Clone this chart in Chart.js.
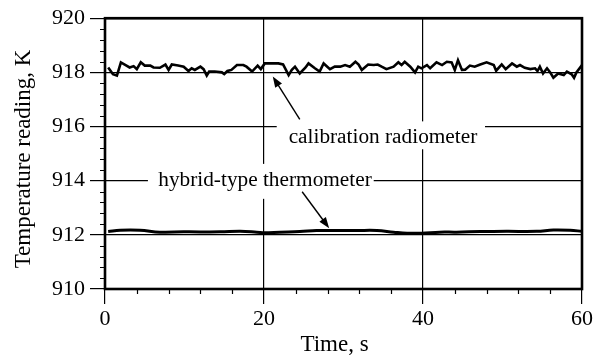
<!DOCTYPE html>
<html>
<head>
<meta charset="utf-8">
<script src="https://cdn.jsdelivr.net/npm/chart.js@4.4.1/dist/chart.umd.min.js"></script>
<style>
  html, body { margin: 0; padding: 0; background: #fff; }
  #wrap { width: 596px; height: 361px; position: relative; }
</style>
</head>
<body>
<div id="wrap"><canvas id="chart"></canvas></div>
<script>
/* Temperature readings over 60 s: calibration radiometer vs hybrid-type thermometer */

const SERIF = '"Liberation Serif", "Times New Roman", serif';

// calibration radiometer, time (s) and reading (K)
const calTime = [
    0.4, 1.0, 1.5, 2.0, 2.7, 3.1, 3.6, 4.0, 4.5, 5.0,
    5.7, 6.1, 6.9, 7.6, 8.0, 8.4, 9.2, 9.9, 10.5, 10.9,
    11.3, 12.0, 12.4, 12.8, 13.1, 13.8, 14.7, 15.0, 15.4, 15.9,
    16.6, 17.4, 17.8, 18.5, 19.2, 19.6, 20.1, 20.8, 21.8, 22.4,
    23.1, 23.5, 23.9, 24.5, 25.2, 25.6, 26.4, 27.0, 27.5, 28.3,
    28.9, 29.6, 30.2, 30.8, 31.5, 31.9, 32.3, 33.1, 33.8, 34.3,
    34.8, 35.4, 36.3, 36.9, 37.3, 37.7, 38.4, 39.0, 39.4, 39.8,
    40.5, 40.9, 41.7, 42.4, 43.0, 43.6, 44.0, 44.4, 44.9, 45.3,
    45.9, 46.5, 47.2, 48.0, 48.9, 49.2, 49.9, 50.4, 51.2, 51.8,
    52.2, 52.8, 53.5, 54.1, 54.4, 54.7, 55.1, 55.6, 56.0, 56.4,
    57.0, 57.7, 58.1, 58.7, 59.0, 59.3, 60.0
];
const calTemp = [
    918.18, 917.93, 917.88, 918.37, 918.25, 918.18, 918.23, 918.12, 918.37, 918.25,
    918.25, 918.18, 918.17, 918.29, 918.09, 918.29, 918.25, 918.21, 918.05, 918.15,
    918.09, 918.21, 918.12, 917.88, 918.03, 918.03, 918.00, 917.94, 918.05, 918.09,
    918.27, 918.27, 918.21, 918.03, 918.25, 918.12, 918.33, 918.33, 918.33, 918.29,
    917.90, 918.09, 918.21, 917.96, 918.17, 918.33, 918.15, 918.03, 918.33, 918.12,
    918.21, 918.21, 918.27, 918.21, 918.39, 918.29, 918.09, 918.29, 918.27, 918.29,
    918.21, 918.12, 918.21, 918.37, 918.27, 918.39, 918.21, 918.00, 918.21, 918.15,
    918.27, 918.15, 918.37, 918.27, 918.39, 918.37, 918.09, 918.45, 918.09, 918.10,
    918.25, 918.21, 918.29, 918.37, 918.27, 918.06, 918.29, 918.12, 918.33, 918.21,
    918.27, 918.17, 918.12, 918.15, 918.05, 918.21, 917.96, 918.15, 918.00, 917.80,
    917.96, 917.90, 918.03, 917.93, 917.80, 918.00, 918.27
];

// hybrid-type thermometer, time (s) and reading (K)
const hybTime = [
    0.4, 1.9, 4.4, 6.9, 9.9, 14.5, 17.0, 19.1, 20.1, 22.0,
    24.5, 26.6, 29.6, 31.7, 34.2, 36.3, 38.0, 39.8, 42.1, 44.2,
    47.2, 50.5, 54.3, 56.4, 58.5, 60.0
];
const hybTemp = [
    912.12, 912.17, 912.17, 912.10, 912.11, 912.11, 912.13, 912.10, 912.08, 912.10,
    912.12, 912.16, 912.16, 912.16, 912.16, 912.10, 912.06, 912.06, 912.10, 912.10,
    912.12, 912.13, 912.13, 912.18, 912.17, 912.13
];

// axis ticks
const xTicks = [0, 20, 40, 60];
const yTicks = [910, 912, 914, 916, 918, 920];
const xMinorStep = 4;
const yMinorStep = 0.4;

// text labels with their arrows, placed in data units
const callouts = [
    { text: 'calibration radiometer', tx: 23.1, ty: 915.40,
      box: [21.6, 916.19, 47.8, 915.16],
      arrow: [24.5, 916.26, 21.1, 917.85] },
    { text: 'hybrid-type thermometer', tx: 6.7, ty: 913.81,
      box: [5.4, 914.62, 33.8, 913.33],
      arrow: [24.8, 913.59, 28.2, 912.24] },
];

const toPoints = (xs, ys) => xs.map((x, i) => ({ x, y: ys[i] }));

// white boxes behind the callout text so the grid stops at the words
const calloutPlugin = {
    id: 'callouts',
    beforeDatasetsDraw(chart) {
        const { ctx, scales: { x, y } } = chart;
        ctx.save();
        callouts.forEach(c => {
            const [x0, y0, x1, y1] = c.box;
            ctx.fillStyle = '#fff';
            ctx.fillRect(x.getPixelForValue(x0), y.getPixelForValue(y0),
                x.getPixelForValue(x1) - x.getPixelForValue(x0),
                y.getPixelForValue(y1) - y.getPixelForValue(y0));
            ctx.fillStyle = '#000';
            ctx.font = '21.3px ' + SERIF;
            ctx.textBaseline = 'alphabetic';
            ctx.textAlign = 'left';
            ctx.fillText(c.text, x.getPixelForValue(c.tx), y.getPixelForValue(c.ty));

            // arrow
            const ax0 = x.getPixelForValue(c.arrow[0]), ay0 = y.getPixelForValue(c.arrow[1]);
            const ax1 = x.getPixelForValue(c.arrow[2]), ay1 = y.getPixelForValue(c.arrow[3]);
            const ang = Math.atan2(ay1 - ay0, ax1 - ax0);
            const len = 11, half = 4;
            ctx.strokeStyle = '#000';
            ctx.lineWidth = 1.4;
            ctx.beginPath();
            ctx.moveTo(ax0, ay0);
            ctx.lineTo(ax1 - Math.cos(ang) * len * 0.8, ay1 - Math.sin(ang) * len * 0.8);
            ctx.stroke();
            ctx.beginPath();
            ctx.moveTo(ax1, ay1);
            ctx.lineTo(ax1 - Math.cos(ang) * len - Math.sin(ang) * half,
                       ay1 - Math.sin(ang) * len + Math.cos(ang) * half);
            ctx.lineTo(ax1 - Math.cos(ang) * len + Math.sin(ang) * half,
                       ay1 - Math.sin(ang) * len - Math.cos(ang) * half);
            ctx.closePath();
            ctx.fill();
        });
        ctx.restore();
    },
};

// heavy frame, minor ticks and axis titles
const framePlugin = {
    id: 'frame',
    afterDatasetsDraw(chart) {
        const { ctx, chartArea: a, scales: { x, y } } = chart;
        ctx.save();
        ctx.strokeStyle = '#000';
        ctx.lineWidth = 1.2;
        ctx.beginPath();
        for (let v = x.min; v <= x.max + 1e-6; v += xMinorStep) {
            if (xTicks.includes(Math.round(v))) continue;
            const px = Math.round(x.getPixelForValue(v)) + 0.5;
            ctx.moveTo(px, a.bottom);
            ctx.lineTo(px, a.bottom + 5);
        }
        for (let v = y.min; v <= y.max + 1e-6; v += yMinorStep) {
            if (Math.abs(v - Math.round(v / 2) * 2) < 1e-6) continue;
            const py = Math.round(y.getPixelForValue(v)) + 0.5;
            ctx.moveTo(a.left - 5, py);
            ctx.lineTo(a.left, py);
        }
        ctx.stroke();

        ctx.lineWidth = 2.6;
        ctx.strokeRect(a.left, a.top, a.right - a.left, a.bottom - a.top);

        ctx.fillStyle = '#000';
        ctx.font = '23px ' + SERIF;
        ctx.textAlign = 'center';
        ctx.textBaseline = 'alphabetic';
        ctx.fillText('Time, s', (a.left + a.right) / 2 - 9, a.bottom + 62);

        ctx.translate(a.left - 75, 159);
        ctx.rotate(-Math.PI / 2);
        ctx.fillText('Temperature reading, K', 0, 0);
        ctx.restore();
    },
};

const tickFont = { family: SERIF, size: 22 };

new Chart(document.getElementById('chart'), {
    type: 'line',
    data: {
        datasets: [
            {
                label: 'calibration radiometer',
                data: toPoints(calTime, calTemp),
                borderColor: '#000',
                borderWidth: 2.6,
                pointRadius: 0,
                tension: 0,
            },
            {
                label: 'hybrid-type thermometer',
                data: toPoints(hybTime, hybTemp),
                borderColor: '#000',
                borderWidth: 3,
                pointRadius: 0,
                tension: 0.4,
            },
        ],
    },
    options: {
        responsive: true,
        maintainAspectRatio: false,
        animation: false,
        layout: { padding: { top: 16, right: 14, left: 0, bottom: 0 } },
        plugins: { legend: { display: false }, tooltip: { enabled: false } },
        scales: {
            x: {
                type: 'linear', min: 0, max: 60,
                afterBuildTicks: s => { s.ticks = xTicks.map(value => ({ value })); },
                afterFit: s => { s.height = 72; },
                ticks: { color: '#000', font: tickFont, padding: 2, maxRotation: 0 },
                grid: { color: '#000', lineWidth: 1.2, tickLength: 15 },
                border: { display: false },
            },
            y: {
                min: 910, max: 920,
                afterBuildTicks: s => { s.ticks = yTicks.map(value => ({ value })); },
                afterFit: s => { s.width = 105; },
                ticks: { color: '#000', font: tickFont, padding: 5 },
                grid: { color: '#000', lineWidth: 1.2, tickLength: 15 },
                border: { display: false },
            },
        },
    },
    plugins: [calloutPlugin, framePlugin],
});
</script>
</body>
</html>
